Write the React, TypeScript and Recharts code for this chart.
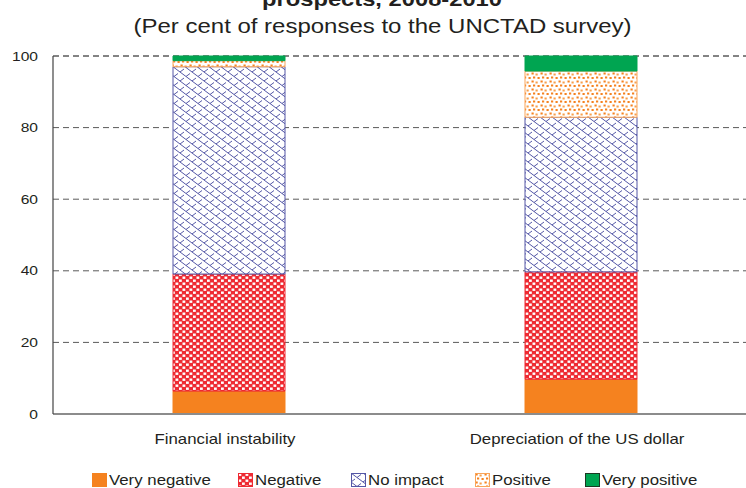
import React from 'react';
import { BarChart, Bar, XAxis, YAxis, CartesianGrid } from 'recharts';

const categories = ['Financial instability', 'Depreciation of the US dollar'];
const veryNegative = [6.4, 9.7];
const negative = [32.7, 30];
const noImpact = [57.9, 43.2];
const positive = [1.7, 12.9];
const veryPositive = [1.3, 4.2];
const yTicks = [0, 20, 40, 60, 80, 100];

const FONT = '"Liberation Sans", Arial, sans-serif';
// the reference is stretched ~1.2x horizontally, so text is widened to match
const STRETCH = 1.2;

const data = categories.map((name, i) => ({
  name,
  veryNegative: veryNegative[i],
  negative: negative[i],
  noImpact: noImpact[i],
  positive: positive[i],
  veryPositive: veryPositive[i],
}));

const series = [
  { key: 'veryNegative', label: 'Very negative', fill: '#f5821f', stroke: '#f5821f' },
  { key: 'negative', label: 'Negative', fill: 'url(#patNeg)', stroke: '#ee2a32' },
  { key: 'noImpact', label: 'No impact', fill: 'url(#patNone)', stroke: '#5457a6' },
  { key: 'positive', label: 'Positive', fill: 'url(#patPos)', stroke: '#f9a55a' },
  { key: 'veryPositive', label: 'Very positive', fill: '#00a551', stroke: '#00a551' },
];

const legendLeft = [92, 238, 351, 475, 585];

const YTick = (props: any) => {
  const { x, y, payload } = props;
  return (
    <g transform={`translate(${x},${y}) scale(${STRETCH},1)`}>
      <text x={0} y={0} dy="0.36em" textAnchor="end" fontSize={13} fontFamily={FONT} fill="#231f20">
        {payload.value}
      </text>
    </g>
  );
};

const XTick = (props: any) => {
  const { x, y, payload } = props;
  return (
    <g transform={`translate(${x - 4},${y + 30}) scale(${STRETCH},1)`}>
      <text x={0} y={0} textAnchor="middle" fontSize={14} fontFamily={FONT} fill="#231f20">
        {payload.value}
      </text>
    </g>
  );
};

const Swatch = ({ fill, stroke }: { fill: string; stroke: string }) => (
  <svg width={15} height={14} style={{ display: 'block' }}>
    <rect x={0.5} y={0.5} width={14} height={13} fill={fill} stroke={stroke} strokeWidth={1} />
  </svg>
);

export default function App() {
  return (
    <div style={{ position: 'absolute', left: 0, top: 0, width: 746, height: 488, overflow: 'hidden', background: '#fff' }}>
      {/* shared fill patterns */}
      <svg width={0} height={0} style={{ position: 'absolute' }}>
        <defs>
          <pattern id="patNeg" width={7} height={6} patternUnits="userSpaceOnUse">
            <rect width={7} height={6} fill="#ee2a32" />
            <rect x={0.5} y={0.5} width={2.8} height={2.4} fill="#fff" />
            <rect x={4} y={3.5} width={2.8} height={2.4} fill="#fff" />
          </pattern>
          <pattern id="patNone" width={12} height={9} patternUnits="userSpaceOnUse">
            <rect width={12} height={9} fill="#fff" />
            <path d="M0,0 L12,9 M-6,4.5 L6,13.5 M6,-4.5 L18,4.5" stroke="#5457a6" strokeWidth={1} />
            <path d="M0,9 L4,6 M6,4.5 L10,1.5" stroke="#5457a6" strokeWidth={1} />
          </pattern>
          <pattern id="patPos" width={9} height={8} patternUnits="userSpaceOnUse">
            <rect width={9} height={8} fill="#fff" />
            <rect x={0.5} y={0.5} width={2.2} height={2} fill="#f5821f" />
            <rect x={4.5} y={1.5} width={2.2} height={2} fill="#f7a04d" />
            <rect x={2} y={4.5} width={2.2} height={2} fill="#f5821f" />
            <rect x={6.5} y={5} width={2.2} height={2} fill="#f5821f" />
          </pattern>
        </defs>
      </svg>

      {/* title: first line is cropped at the top in the reference */}
      <svg width={746} height={40} style={{ position: 'absolute', left: 0, top: 0 }}>
        <text
          x={382}
          y={6}
          textAnchor="middle"
          fontSize={20}
          fontWeight="bold"
          fontFamily={FONT}
          fill="#231f20"
          textLength={240}
          lengthAdjust="spacingAndGlyphs"
        >
          prospects, 2008-2010
        </text>
        <text
          x={382.5}
          y={33}
          textAnchor="middle"
          fontSize={20}
          fontFamily={FONT}
          fill="#231f20"
          textLength={498}
          lengthAdjust="spacingAndGlyphs"
        >
          (Per cent of responses to the UNCTAD survey)
        </text>
      </svg>

      <div style={{ position: 'absolute', left: 0, top: 0 }}>
        <BarChart width={760} height={488} data={data} margin={{ top: 56, right: 3, left: 0, bottom: 44 }}>
          <CartesianGrid vertical={false} stroke="#5a5a5a" strokeDasharray="6 4" />
          <XAxis
            dataKey="name"
            height={30}
            tickLine={false}
            tickSize={0}
            tickMargin={0}
            axisLine={{ stroke: '#8c8c8c', strokeWidth: 2 }}
            tick={<XTick />}
          />
          <YAxis
            width={53}
            domain={[0, 100]}
            ticks={yTicks}
            tickLine={false}
            tickSize={0}
            tickMargin={15}
            axisLine={{ stroke: '#444', strokeWidth: 1.2 }}
            tick={<YTick />}
          />
          {series.map((s) => (
            <Bar
              key={s.key}
              dataKey={s.key}
              stackId="a"
              barSize={112}
              fill={s.fill}
              stroke={s.stroke}
              strokeWidth={1}
              isAnimationActive={false}
            />
          ))}
        </BarChart>
      </div>

      {/* legend */}
      {series.map((s, i) => (
        <div
          key={s.key}
          style={{ position: 'absolute', left: legendLeft[i], top: 472, display: 'flex', alignItems: 'center', height: 16 }}
        >
          <Swatch fill={s.fill} stroke={s.key === 'veryPositive' ? '#1d3a24' : s.stroke} />
          <span
            style={{
              fontFamily: FONT,
              fontSize: 14,
              color: '#231f20',
              marginLeft: 2,
              display: 'inline-block',
              transform: `scaleX(${STRETCH})`,
              transformOrigin: 'left center',
              whiteSpace: 'nowrap',
            }}
          >
            {s.label}
          </span>
        </div>
      ))}
    </div>
  );
}
